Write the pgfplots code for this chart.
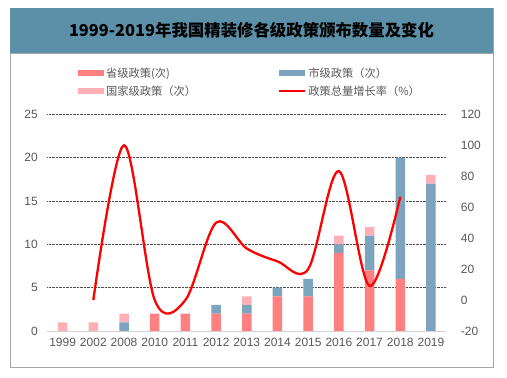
\documentclass[border=0pt]{standalone}
\usepackage{pgfplots}
\pgfplotsset{compat=1.18}
\usepackage{fontspec}
\setmainfont{Liberation Sans}
\newfontfamily\cjk{Noto Sans CJK SC}
\definecolor{prov}{HTML}{FF8080}
\definecolor{city}{HTML}{7DA4BE}
\definecolor{natl}{HTML}{FFB0B6}
\definecolor{titlebg}{HTML}{5B90A8}
\definecolor{txt}{HTML}{595959}
\definecolor{frame}{HTML}{A6A6A6}
\begin{document}
\begin{tikzpicture}
\path[use as bounding box] (0pt,0pt) rectangle (507pt,378pt);
\fill[white] (0pt,0pt) rectangle (507pt,378pt);
\fill[titlebg] (10pt,370pt) rectangle (493pt,325pt);
\draw[frame, line width=0.9pt] (10pt,325pt) -- (10pt,11pt) -- (493pt,11pt) -- (493pt,370pt);
\draw[frame, line width=0.9pt] (10pt,325pt) -- (493pt,325pt);
\node[font=\cjk\bfseries\fontsize{16.4}{19}\selectfont, text=black] at (251.5pt,348pt) {1999-2019年我国精装修各级政策颁布数量及变化};
\begin{axis}[
  at={(47.3pt,47pt)}, anchor=south west,
  scale only axis, width=399pt, height=216.7pt,
  ybar stacked, bar width=9.5pt,
  xmin=-0.5, xmax=12.5, ymin=0, ymax=25,
  xtick={0,...,12},
  xticklabels={1999,2002,2008,2010,2011,2012,2013,2014,2015,2016,2017,2018,2019},
  ytick={5,10,...,25},
  extra y ticks={0},
  extra y tick style={grid=none},
  ymajorgrids,
  major grid style={densely dotted, black!70, line width=0.6pt},
  major tick length=0pt,
  axis x line*=bottom, axis y line*=left,
  x axis line style={draw=gray!35, line width=0.8pt},
  y axis line style={draw=none},
  /pgf/number format/assume math mode=true,
  tick label style={font=\fontsize{12}{14}\selectfont, text=txt},
  yticklabel style={xshift=-6pt},
  xticklabel style={yshift=-4pt},
]
\addplot[fill=prov, draw=none] coordinates {(0,0) (1,0) (2,0) (3,2) (4,2) (5,2) (6,2) (7,4) (8,4) (9,9) (10,7) (11,6) (12,0)};
\addplot[fill=city, draw=none] coordinates {(0,0) (1,0) (2,1) (3,0) (4,0) (5,1) (6,1) (7,1) (8,2) (9,1) (10,4) (11,14) (12,17)};
\addplot[fill=natl, draw=none] coordinates {(0,1) (1,1) (2,1) (3,0) (4,0) (5,0) (6,1) (7,0) (8,0) (9,1) (10,1) (11,0) (12,1)};
\end{axis}
\begin{axis}[
  at={(47.3pt,47pt)}, anchor=south west,
  scale only axis, width=399pt, height=216.7pt,
  xmin=-0.5, xmax=12.5, ymin=-20, ymax=120,
  ytick={-20,0,...,120},
  axis x line=none, axis y line*=right,
  y axis line style={draw=none},
  major tick length=0pt,
  /pgf/number format/assume math mode=true,
  tick label style={font=\fontsize{12}{14}\selectfont, text=txt},
  yticklabel style={anchor=west, xshift=11pt},
  legend style={at={(0.069,1.235)}, anchor=north west, draw=none, fill=none,
    font=\cjk\fontsize{11.25}{13}\selectfont, text=txt,
    legend columns=2, row sep=3pt,
    /tikz/every even column/.append style={column sep=80pt}},
  legend cell align=left,
]
\addlegendimage{fill=prov, draw=none, legend image code/.code={\fill[prov] (0pt,-3pt) rectangle (26pt,3pt);}}
\addlegendentry{省级政策(次)}
\addlegendimage{fill=city, draw=none, legend image code/.code={\fill[city] (0pt,-3pt) rectangle (26pt,3pt);}}
\addlegendentry{市级政策（次）}
\addlegendimage{fill=natl, draw=none, legend image code/.code={\fill[natl] (0pt,-3pt) rectangle (26pt,3pt);}}
\addlegendentry{国家级政策（次）}
\addplot[red, line width=2.3pt, smooth, tension=0.55, legend image code/.code={\draw[red, line width=2.3pt] (0pt,0pt) -- (26pt,0pt);}] coordinates {(1,0) (2,100) (3,0) (4,0) (5,50) (6,33.3) (7,25) (8,20) (9,83.3) (10,9.1) (11,66.7)};
\addlegendentry{政策总量增长率（\%）}
\end{axis}
\end{tikzpicture}
\end{document}
